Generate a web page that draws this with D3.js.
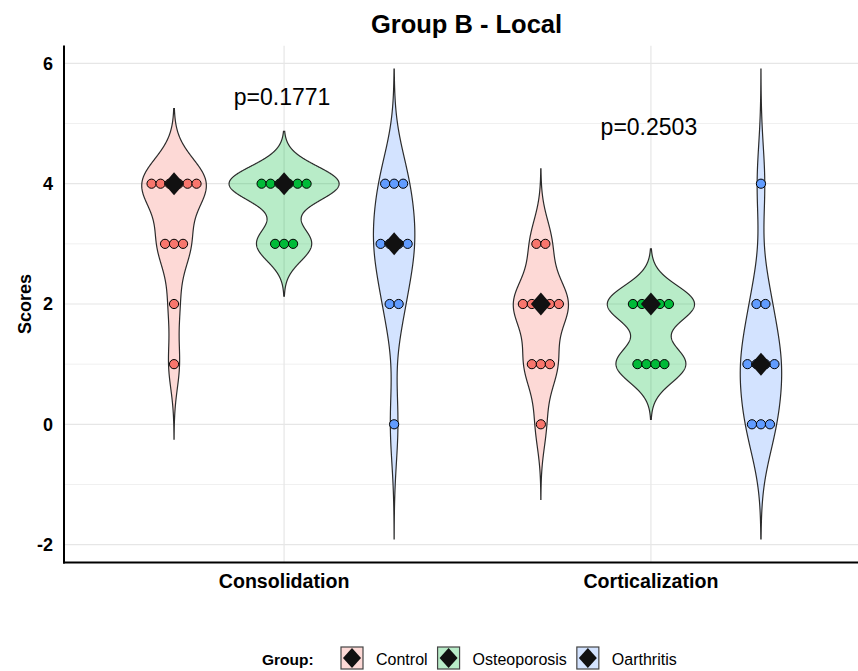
<!DOCTYPE html>
<html><head><meta charset="utf-8">
<script src="https://cdn.jsdelivr.net/npm/d3@7"></script>
<style>
html,body{margin:0;padding:0;background:#fff;}
svg{display:block;font-family:"Liberation Sans",Arial,sans-serif;}
</style></head>
<body><div id="chart"></div>
<script>
// ---- data ----
const categories = ["Consolidation", "Corticalization"];
const groups = ["Control", "Osteoporosis", "Oarthritis"];
const groupColors = ["#F8766D", "#00BA38", "#619CFF"];
// individual scores per category, per group
const consolidationControl = [1, 2, 3, 3, 3, 4, 4, 4, 4, 4, 4];
const consolidationOsteoporosis = [3, 3, 3, 4, 4, 4, 4, 4, 4];
const consolidationOarthritis = [0, 2, 2, 3, 3, 3, 3, 4, 4, 4];
const corticalizationControl = [0, 1, 1, 1, 2, 2, 2, 2, 2, 3, 3];
const corticalizationOsteoporosis = [1, 1, 1, 1, 2, 2, 2, 2, 2];
const corticalizationOarthritis = [0, 0, 0, 1, 1, 1, 1, 2, 2, 4];
const pLabels = ["p=0.1771", "p=0.2503"];
const pLabelY = [5.45, 4.95];
const yTicks = [-2, 0, 2, 4, 6];
const yMinorTicks = [-1, 1, 3, 5];
const titleText = "Group B - Local";
const yTitle = "Scores";
const legendTitle = "Group:";

const scoreTable = [
  [consolidationControl, consolidationOsteoporosis, consolidationOarthritis],
  [corticalizationControl, corticalizationOsteoporosis, corticalizationOarthritis]
];

// ---- density (R-like gaussian, bw.nrd0, cut = 3) ----
function quantile7(sorted, p) {
  const h = (sorted.length - 1) * p, lo = Math.floor(h), hi = Math.ceil(h);
  return sorted[lo] + (h - lo) * (sorted[hi] - sorted[lo]);
}
function bwNrd0(x) {
  const s = x.slice().sort((a, b) => a - b);
  const sd = d3.deviation(s);
  const iqr = quantile7(s, 0.75) - quantile7(s, 0.25);
  let lo = Math.min(sd, iqr / 1.34);
  if (!(lo > 0)) lo = sd || Math.abs(s[0]) || 1;
  return 0.9 * lo * Math.pow(s.length, -0.2);
}
function kde(x) {
  const bw = bwNrd0(x);
  const lo = d3.min(x) - 3 * bw, hi = d3.max(x) + 3 * bw;
  const n = 512, pts = [];
  const c = 1 / (bw * Math.sqrt(2 * Math.PI) * x.length);
  for (let i = 0; i < n; i++) {
    const v = lo + (hi - lo) * i / (n - 1);
    let d = 0;
    for (const xi of x) { const z = (v - xi) / bw; d += Math.exp(-0.5 * z * z); }
    pts.push({ v, d: d * c });
  }
  return pts;
}

const violins = [];
scoreTable.forEach((row, ci) => row.forEach((vals, gi) => {
  violins.push({ cat: categories[ci], group: groups[gi], gi, vals, dens: kde(vals), median: d3.median(vals) });
}));
const maxDens = d3.max(violins, v => d3.max(v.dens, p => p.d));
const yExtent = [d3.min(violins, v => v.dens[0].v), d3.max(violins, v => v.dens[v.dens.length - 1].v)];
const yPad = (yExtent[1] - yExtent[0]) * 0.05;

// ---- layout ----
const W = 858, H = 671;
const panel = { left: 64, top: 45.5, bottom: 562.5, right: 871 };

const svg = d3.select("#chart").append("svg").attr("width", W).attr("height", H);

const x = d3.scalePoint().domain(categories).range([panel.left, panel.right]).padding(0.6);
const step = x.step();
const xg = d3.scaleBand().domain(groups).range([-0.45 * step, 0.45 * step]).padding(0);
const y = d3.scaleLinear().domain([yExtent[0] - yPad, yExtent[1] + yPad]).range([panel.bottom, panel.top]);
const wScale = d3.scaleLinear().domain([0, maxDens]).range([0, xg.bandwidth() / 2]);

svg.append("defs").append("clipPath").attr("id", "pclip")
  .append("rect").attr("x", panel.left).attr("y", panel.top).attr("width", W - panel.left).attr("height", panel.bottom - panel.top);

const plot = svg.append("g").attr("clip-path", "url(#pclip)");

// grid
plot.append("g").selectAll("line").data(yMinorTicks).join("line")
  .attr("x1", panel.left).attr("x2", W).attr("y1", d => y(d)).attr("y2", d => y(d))
  .attr("stroke", "#F0F0F0").attr("stroke-width", 1);
plot.append("g").selectAll("line").data(yTicks).join("line")
  .attr("x1", panel.left).attr("x2", W).attr("y1", d => y(d)).attr("y2", d => y(d))
  .attr("stroke", "#E6E6E6").attr("stroke-width", 1.2);
plot.append("g").selectAll("line").data(categories).join("line")
  .attr("x1", d => x(d)).attr("x2", d => x(d)).attr("y1", panel.top).attr("y2", panel.bottom)
  .attr("stroke", "#E6E6E6").attr("stroke-width", 1.2);

// violins
const area = d3.area()
  .y(p => y(p.v))
  .curve(d3.curveLinear);
violins.forEach(v => {
  const cx = x(v.cat) + xg(v.group) + xg.bandwidth() / 2;
  v.cx = cx;
  plot.append("path")
    .datum(v.dens)
    .attr("d", area.x0(p => cx - wScale(p.d)).x1(p => cx + wScale(p.d)))
    .attr("fill", groupColors[v.gi]).attr("fill-opacity", 0.28)
    .attr("stroke", "#2b2b2b").attr("stroke-width", 1.2);
});

// dots (centered stacks)
const dotR = 4.6;
violins.forEach(v => {
  const bins = d3.rollups(v.vals, a => a.length, d => d);
  bins.forEach(([val, n]) => {
    for (let i = 0; i < n; i++) {
      plot.append("circle")
        .attr("cx", v.cx + (i - (n - 1) / 2) * 9)
        .attr("cy", y(val)).attr("r", dotR)
        .attr("fill", groupColors[v.gi]).attr("stroke", "#000").attr("stroke-width", 1);
    }
  });
});

// median diamonds
const diamond = (cx, cy, w, h) => `M${cx},${cy - h / 2}L${cx + w / 2},${cy}L${cx},${cy + h / 2}L${cx - w / 2},${cy}Z`;
violins.forEach(v => {
  plot.append("path").attr("d", diamond(v.cx, y(v.median), 20, 23)).attr("fill", "#111111");
});

// p values
plot.append("g").selectAll("text").data(pLabels).join("text")
  .attr("x", (d, i) => x(categories[i]) - 2)
  .attr("y", (d, i) => y(pLabelY[i]))
  .attr("dy", "0.36em")
  .attr("text-anchor", "middle").attr("font-size", 23).attr("fill", "#000")
  .text(d => d);

// axes lines
svg.append("line").attr("x1", panel.left).attr("x2", panel.left).attr("y1", panel.top).attr("y2", panel.bottom + 1)
  .attr("stroke", "#000").attr("stroke-width", 2);
svg.append("line").attr("x1", panel.left - 1).attr("x2", W).attr("y1", panel.bottom).attr("y2", panel.bottom)
  .attr("stroke", "#000").attr("stroke-width", 2);

// y tick labels
svg.append("g").selectAll("text").data(yTicks).join("text")
  .attr("x", 53).attr("y", d => y(d)).attr("dy", "0.36em")
  .attr("text-anchor", "end").attr("font-size", 18).attr("font-weight", "bold").attr("fill", "#000")
  .text(d => d);

// x tick labels
svg.append("g").selectAll("text").data(categories).join("text")
  .attr("x", d => x(d)).attr("y", 588)
  .attr("text-anchor", "middle").attr("font-size", 19.6).attr("font-weight", "bold").attr("fill", "#000")
  .text(d => d);

// y title
svg.append("text").attr("transform", `translate(31,${(panel.top + panel.bottom) / 2}) rotate(-90)`)
  .attr("text-anchor", "middle").attr("font-size", 18).attr("font-weight", "bold").attr("fill", "#000")
  .text(yTitle);

// title
svg.append("text").attr("x", (panel.left + panel.right) / 2 - 1).attr("y", 33)
  .attr("text-anchor", "middle").attr("font-size", 25.5).attr("font-weight", "bold").attr("fill", "#000")
  .text(titleText);

// legend
const leg = svg.append("g");
leg.append("text").attr("x", 262).attr("y", 665).attr("font-size", 15.5).attr("font-weight", "bold").attr("fill", "#000").text(legendTitle);
let lx = 341;
groups.forEach((g, i) => {
  const gEl = leg.append("g");
  gEl.append("rect").attr("x", lx).attr("y", 647).attr("width", 22).attr("height", 22)
    .attr("fill", groupColors[i]).attr("fill-opacity", 0.28).attr("stroke", "#444").attr("stroke-width", 1.2);
  gEl.append("path").attr("d", diamond(lx + 11, 658, 18, 20)).attr("fill", "#111");
  const t = gEl.append("text").attr("x", lx + 35).attr("y", 665).attr("font-size", 16).attr("fill", "#000").text(g);
  lx = lx + 35 + t.node().getComputedTextLength() + 10;
});
</script>
</body></html>
